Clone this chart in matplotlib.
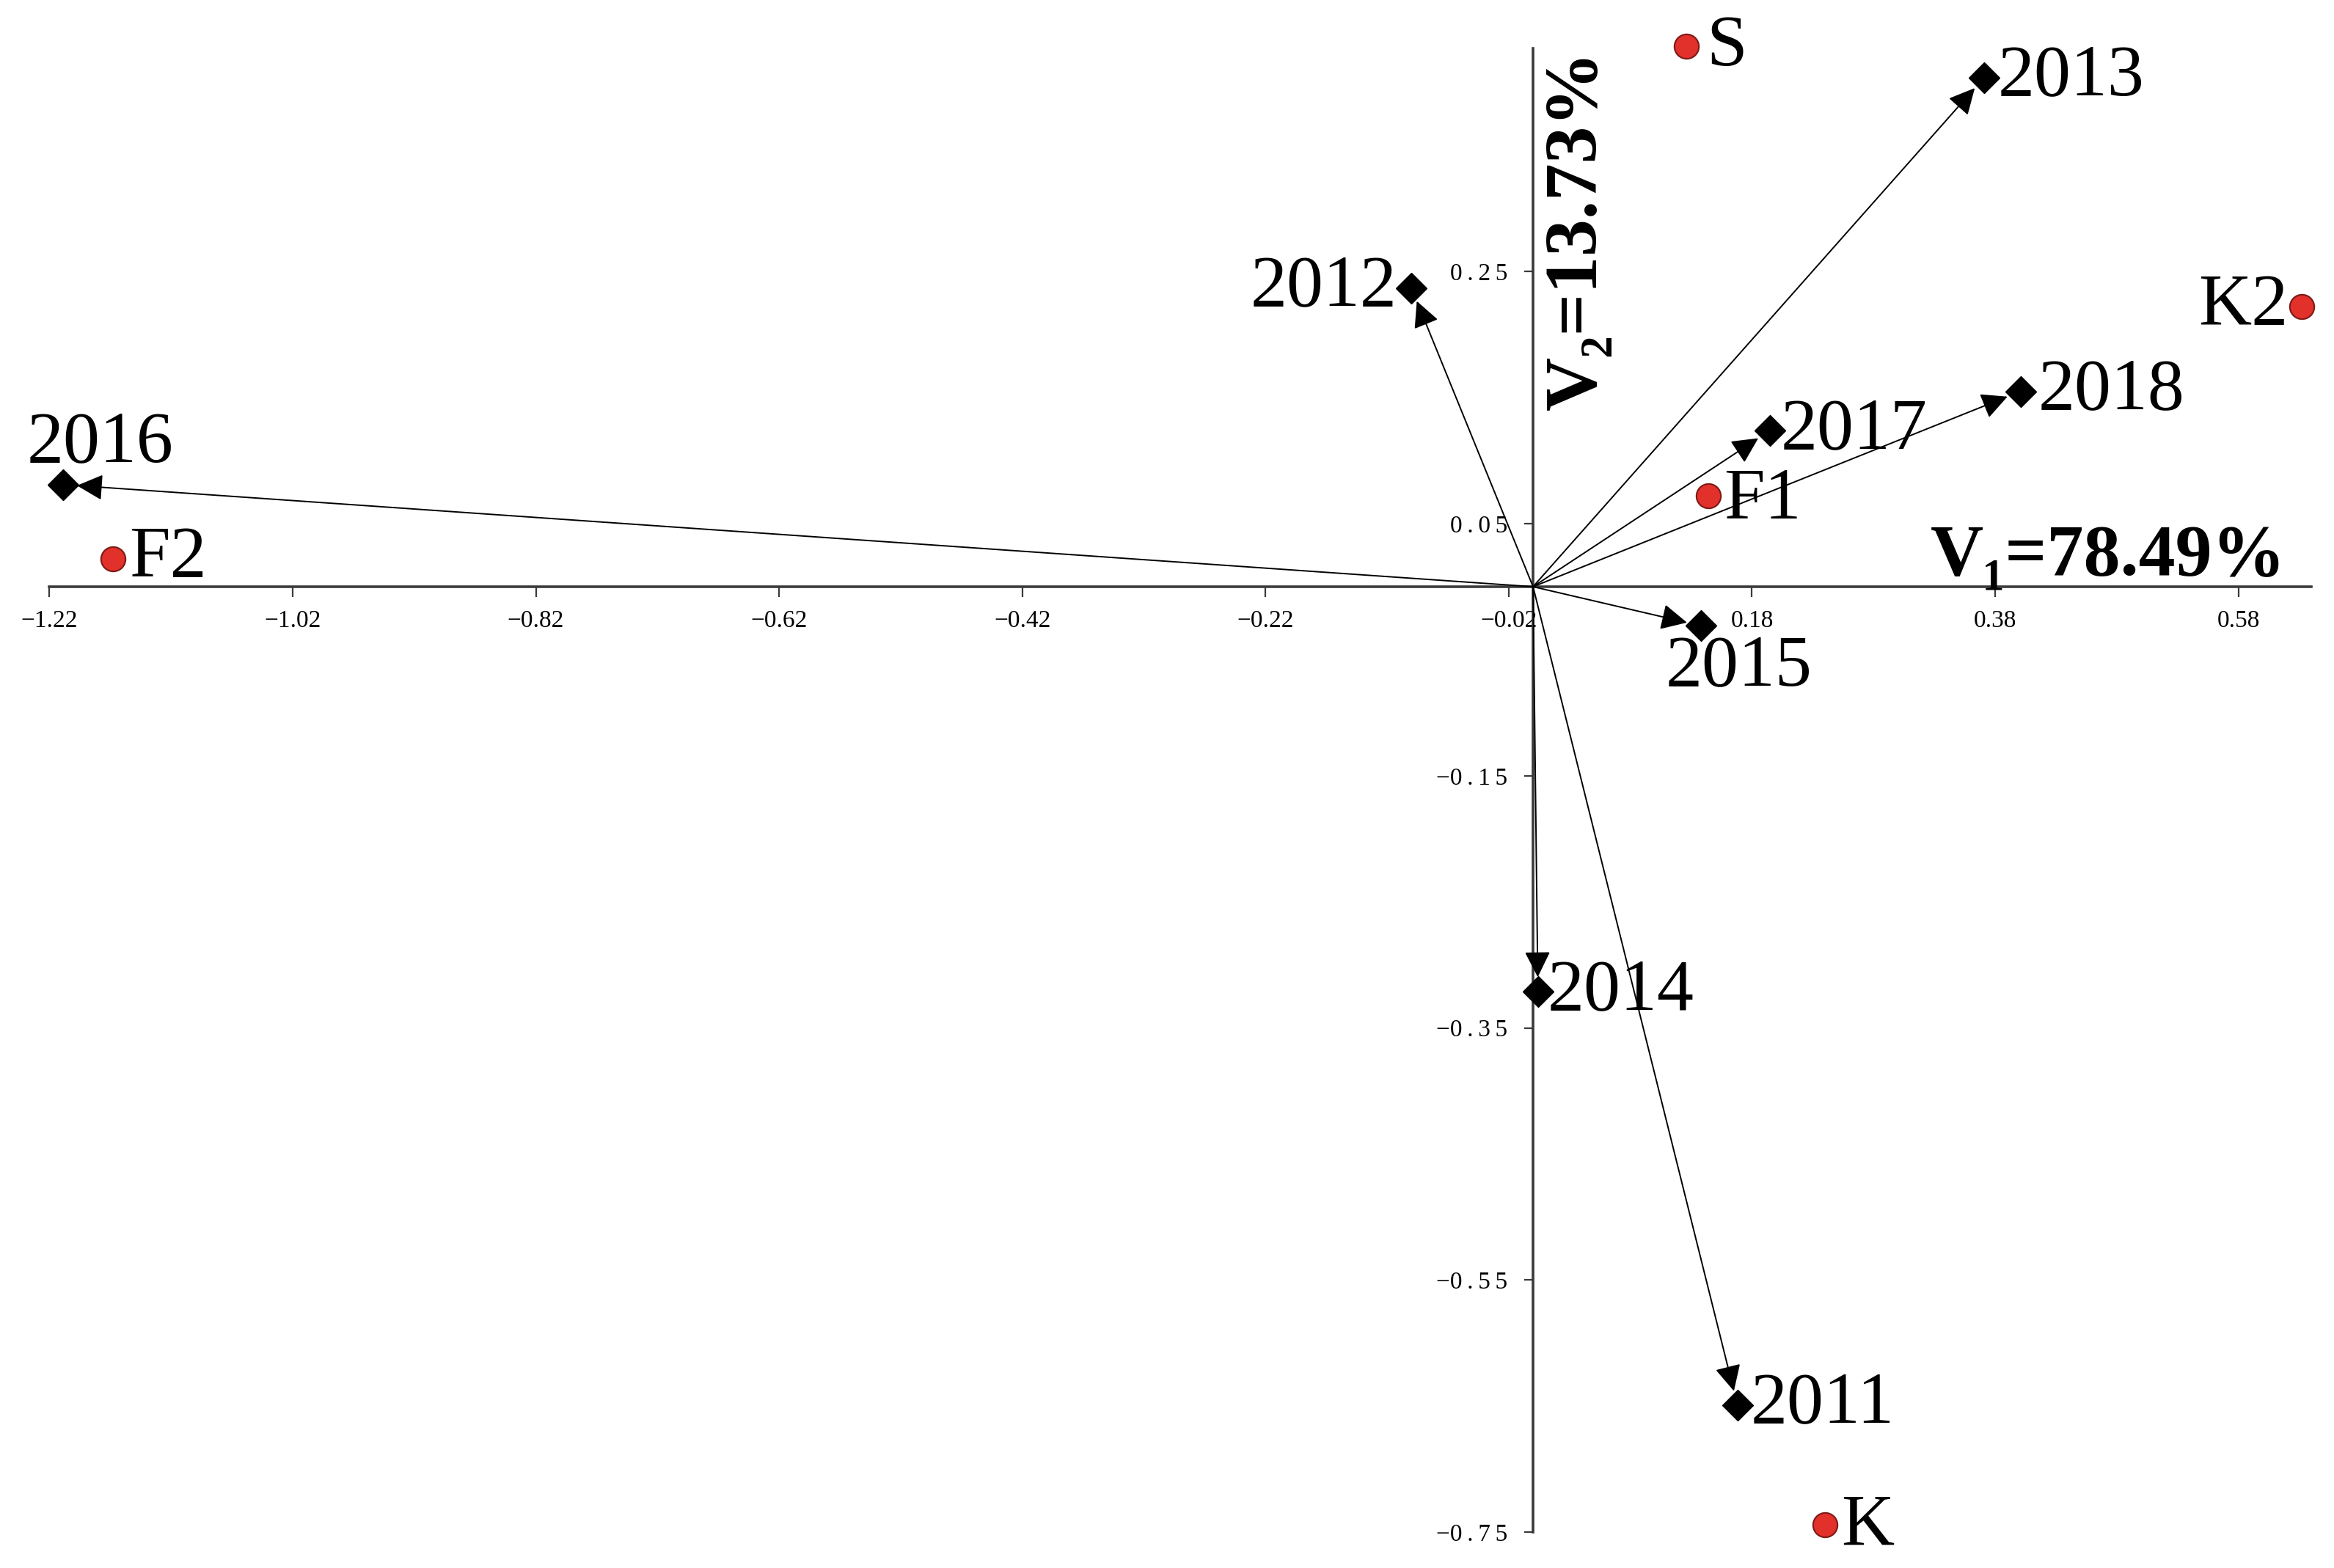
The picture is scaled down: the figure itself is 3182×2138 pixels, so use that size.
"""Correspondence analysis biplot: years (arrows) vs. sites (red dots)."""

import matplotlib

matplotlib.use("Agg")
import matplotlib.pyplot as plt

plt.rcParams["font.family"] = ["Liberation Serif", "DejaVu Serif"]

# ── data ────────────────────────────────────────────────────────────────
years = ["2011", "2012", "2013", "2014", "2015", "2016", "2017", "2018"]
year_x = [0.168, -0.100, 0.371, 0.004, 0.138, -1.209, 0.195, 0.401]
year_y = [-0.649, 0.237, 0.404, -0.321, -0.031, 0.081, 0.124, 0.155]

sites = ["S", "K2", "F1", "F2", "K"]
site_x = [0.126, 0.632, 0.144, -1.168, 0.240]
site_y = [0.429, 0.222, 0.072, 0.022, -0.744]

x_ticks = [-1.22, -1.02, -0.82, -0.62, -0.42, -0.22, -0.02, 0.18, 0.38, 0.58]
y_ticks = [0.25, 0.05, -0.15, -0.35, -0.55, -0.75]

v1_label = "V\u2081=78.49%"
v2_label = "V\u2082=13.73%"

# label placement: (dx, dy) in points, horizontal alignment
year_offsets = {
    "2011": (13, 0, "left"),
    "2012": (-14, 0, "right"),
    "2013": (13, 0, "left"),
    "2014": (9, 0, "left"),
    "2015": (37, -41, "center"),
    "2016": (37, 40, "center"),
    "2017": (10, 0, "left"),
    "2018": (17, 0, "left"),
}
site_offsets = {
    "S": (20, -2, "left"),
    "K2": (-13, 0, "right"),
    "F1": (15, -5, "left"),
    "F2": (16, 0, "left"),
    "K": (16, -2, "left"),
}


def _fmt(v, spaced=False):
    s = f"{abs(v):.2f}"
    if spaced:
        s = "\u2009".join(s)
    return ("\u2212" + s) if v < 0 else s


# ── figure ──────────────────────────────────────────────────────────────
fig = plt.figure(figsize=(31.82, 21.38), dpi=100)
ax = fig.add_axes([0, 0, 1, 1])
ax.set_xlim(-1.2606, 0.6586)
ax.set_ylim(-0.7784, 0.4654)

axis_col = "#3a3a3a"
for side in ("top", "right"):
    ax.spines[side].set_visible(False)
ax.spines["bottom"].set_position(("data", 0))
ax.spines["left"].set_position(("data", 0))
ax.spines["bottom"].set_bounds(-1.22, 0.64)
ax.spines["left"].set_bounds(-0.75, 0.427)
for side in ("bottom", "left"):
    ax.spines[side].set_linewidth(2.6)
    ax.spines[side].set_color(axis_col)

ax.set_xticks(x_ticks)
ax.set_xticklabels([_fmt(v) for v in x_ticks])
ax.set_yticks(y_ticks)
ax.set_yticklabels([_fmt(v, spaced=True) for v in y_ticks])
ax.tick_params(axis="x", direction="out", length=10, width=1.6, color=axis_col,
               labelsize=24, pad=13)
ax.tick_params(axis="y", direction="out", length=9, width=1.6, color=axis_col,
               labelsize=24, pad=16)

# arrows from origin to each year
for name, x, y in zip(years, year_x, year_y):
    ax.annotate(
        "", xy=(x, y), xytext=(0, 0),
        arrowprops=dict(arrowstyle="-|>", color="black", lw=1.4,
                        mutation_scale=55, shrinkA=0, shrinkB=14),
        zorder=3,
    )

ax.plot(year_x, year_y, "D", ms=21, color="black", zorder=4, clip_on=False)
ax.plot(site_x, site_y, "o", ms=24, color="#e2302a", mec="#7a1a16",
        mew=1.5, zorder=4, clip_on=False)

for name, x, y in zip(years, year_x, year_y):
    dx, dy, ha = year_offsets[name]
    ax.annotate(name, (x, y), xytext=(dx, dy), textcoords="offset points",
                ha=ha, va="center", fontsize=72, zorder=5)

for name, x, y in zip(sites, site_x, site_y):
    dx, dy, ha = site_offsets[name]
    ax.annotate(name, (x, y), xytext=(dx, dy), textcoords="offset points",
                ha=ha, va="center", fontsize=72, zorder=5)

ax.text(0.327, 0.009, v1_label, fontsize=72, fontweight="bold",
        ha="left", va="baseline")
ax.text(0.037, 0.140, v2_label, fontsize=73, fontweight="bold",
        rotation=90, ha="center", va="bottom")

fig.savefig("out.png", dpi=100)
